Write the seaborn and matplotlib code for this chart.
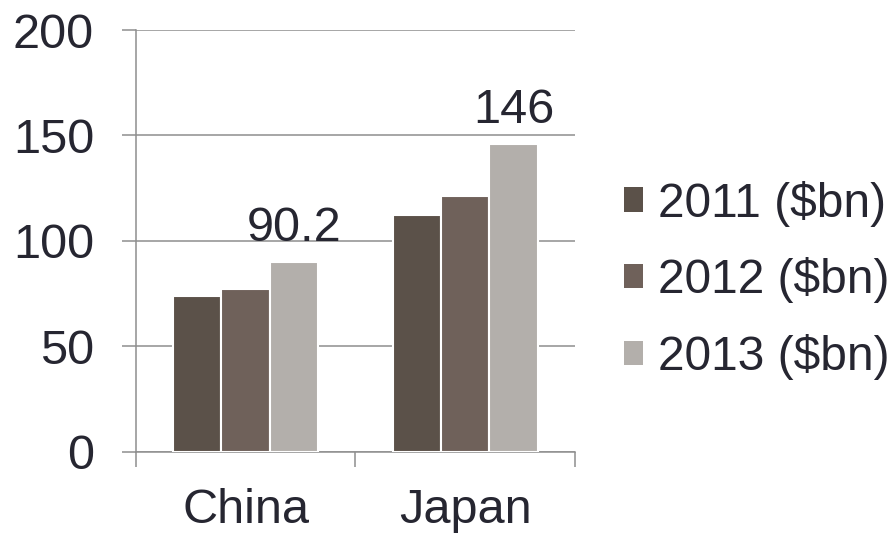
import matplotlib
matplotlib.use("Agg")
import matplotlib.pyplot as plt
import seaborn as sns
import pandas as pd
from matplotlib.ticker import FixedLocator

categories = ["China", "Japan"]
series = ["2011 ($bn)", "2012 ($bn)", "2013 ($bn)"]
v2011 = [74.0, 112.4]
v2012 = [77.0, 121.4]
v2013 = [90.2, 146.0]
labels_2013 = ["90.2", "146"]
yticks = [0, 50, 100, 150, 200]
colors = ["#5E5046", "#736056", "#B4AFAA"]

rows = []
for s, vals in zip(series, [v2011, v2012, v2013]):
    for c, v in zip(categories, vals):
        rows.append({"cat": c, "series": s, "value": v})
df = pd.DataFrame(rows)

sns.set_style("white")
plt.rcParams["font.family"] = ["Liberation Sans", "DejaVu Sans"]
txt = "#262631"
grid = "#8E8E8E"
fs = 35

fig = plt.figure(figsize=(8.93, 5.33), dpi=100)
ax = fig.add_axes([0.152, 0.1525, 0.492, 0.7912])

sns.barplot(data=df, x="cat", y="value", hue="series", palette=colors,
            width=0.66, edgecolor="white", linewidth=1.5, ax=ax, zorder=3,
            legend=True)

ax.set_xlim(-0.5, 1.5)
ax.set_ylim(0, 200)
ax.set_yticks(yticks)
ax.set_yticklabels([str(t) for t in yticks])
ax.yaxis.grid(True, color=grid, linewidth=1.1, zorder=0)
ax.set_axisbelow(True)
ax.set_xlabel("")
ax.set_ylabel("")
for side in ["top", "right"]:
    ax.spines[side].set_visible(False)
for side in ["left", "bottom"]:
    ax.spines[side].set_color(grid)
    ax.spines[side].set_linewidth(1.1)

ax.tick_params(axis="y", length=10, width=1.1, color=grid, pad=20,
               labelsize=fs, labelcolor=txt, left=True)
ax.tick_params(axis="x", which="major", length=0, pad=26,
               labelsize=fs, labelcolor=txt)
ax.xaxis.set_minor_locator(FixedLocator([-0.5, 0.5, 1.5]))
ax.tick_params(axis="x", which="minor", length=11, width=1.1, color=grid,
               bottom=True)

# value labels on 2013 bars
cont = ax.containers[2]
for rect, lab in zip(cont.patches, labels_2013):
    ax.annotate(lab, (rect.get_x() + rect.get_width() / 2, rect.get_height()),
                xytext=(0, 21), textcoords="offset pixels",
                ha="center", va="baseline", fontsize=fs, color=txt, zorder=5)

ax.get_legend().remove()
handles, labs = ax.get_legend_handles_labels()
leg = fig.legend(handles, labs, loc="center left",
                 bbox_to_anchor=(0.699, 0.474), frameon=False, fontsize=34.5,
                 handlelength=0.4, handleheight=0.4, handletextpad=0.3,
                 labelspacing=0.64, borderpad=0, borderaxespad=0)
for t in leg.get_texts():
    t.set_color(txt)
for h in leg.legend_handles:
    h.set_edgecolor("none")

fig.savefig("out.png", dpi=100)
